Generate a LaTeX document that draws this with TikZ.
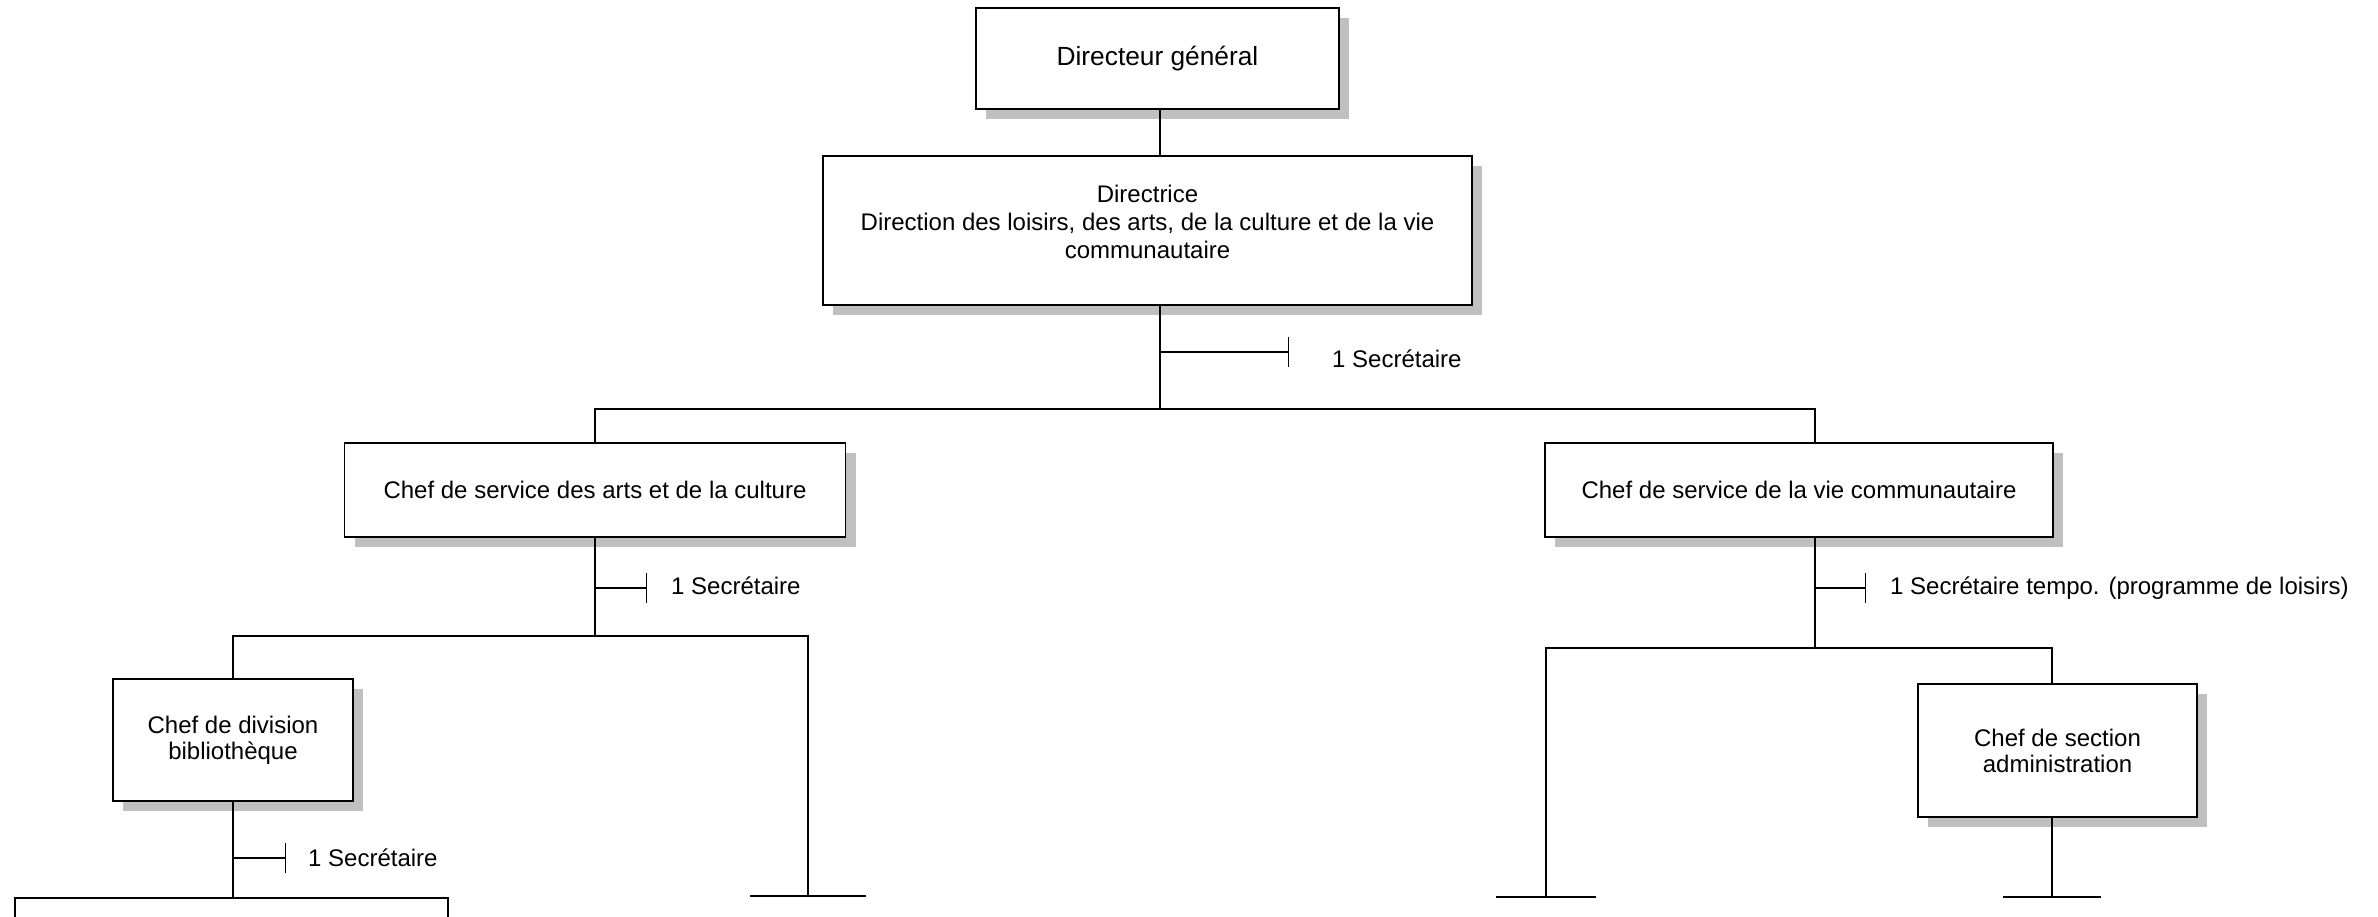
\documentclass[tikz,border=0pt]{standalone}
\usepackage{fontspec}
\setmainfont{Liberation Sans}
\usetikzlibrary{shadows,arrows.meta}
\definecolor{shade}{RGB}{192,192,192}

\begin{document}
\begin{tikzpicture}[x=1pt,y=-1pt,
	frame/.style={draw,line width=1.7pt,fill=white,align=center,inner sep=0,outer sep=0,font=\fontsize{24}{27}\selectfont},
	box/.style={frame,general shadow={fill=shade,shadow xshift=10pt,shadow yshift=-10pt}},
	wire/.style={line width=1.4pt},
	sec/.style={wire,-{Bar[width=30pt,line width=1.4pt]}},
	stub/.style={wire,-{Bar[width=#1,line width=2.4pt]}},
	txt/.style={anchor=west,inner sep=0,font=\fontsize{24}{27}\selectfont}]
	\useasboundingbox (0,0) rectangle (2378,917);
	\node[box,minimum width=363pt,minimum height=101pt,font=\fontsize{26.3}{30}\selectfont] (1) at (1157.5,58.5) {Directeur général};
	\node[box,minimum width=649pt,minimum height=149pt,font=\fontsize{24}{28}\selectfont] (2) at (1147.5,230.5) {Directrice\\Direction des loisirs, des arts, de la culture et de la vie\\communautaire\\[-11pt]\mbox{}};
	\node[box,minimum width=501pt,minimum height=94pt] (3) at (595,490) {Chef de service des arts et de la culture};
	\node[box,minimum width=508pt,minimum height=94pt] (4) at (1799,490) {Chef de service de la vie communautaire};
	\node[box,minimum width=240pt,minimum height=122pt,font=\fontsize{24}{26}\selectfont] (5) at (233,740) {Chef de division\\bibliothèque};
	\node[box,minimum width=279pt,minimum height=133pt,font=\fontsize{24}{26}\selectfont] (6) at (2057.5,750.5) {Chef de section\\administration};
	\node[frame,minimum width=433pt,minimum height=124pt] (7) at (231.5,960) {};
	\coordinate (a) at (1160,409);
	\coordinate (c) at (1815,409);
	\coordinate (e) at (808,636);
	\coordinate (f) at (808,897);
	\coordinate (g) at (1546,648);
	\coordinate (h) at (2052,648);
	\coordinate (i) at (1546,898);
	\draw[wire] (1.south -| a) -- (2.north -| a);
	\draw[wire] (2.south -| a) -- (a);
	\draw[wire] (3.north) |- (a) -| (4.north -| c);
	\draw[wire] (3.south) -- (3.south |- e);
	\draw[stub=116pt] (5.north) |- (e) -- (f);
	\draw[wire] (5.south) -- (7.north -| 5.south);
	\draw[wire] (4.south -| c) -- (c |- g);
	\draw[stub=100pt] (6.north -| h) -- (h) -- (g) -- (i);
	\draw[stub=98pt] (6.south -| h) -- (h |- i);
	\coordinate (k0) at (1160,352);
	\coordinate (k1) at (595,588);
	\coordinate (k2) at (1815,588);
	\coordinate (k3) at (233,858);
	\draw[sec] (k0) -- ++(129,0);
	\draw[sec] (k1) -- ++(52,0);
	\draw[sec] (k2) -- ++(51,0);
	\draw[sec] (k3) -- ++(53,0);
	\node[txt] (t0) at (1332,359) {1 Secrétaire};
	\node[txt] (t1) at (671,586) {1 Secrétaire};
	\node[txt] (t2) at (1890,588) {1 Secrétaire tempo. (programme de loisirs)};
	\node[txt] (t3) at (308,858) {1 Secrétaire};
\end{tikzpicture}
\end{document}
